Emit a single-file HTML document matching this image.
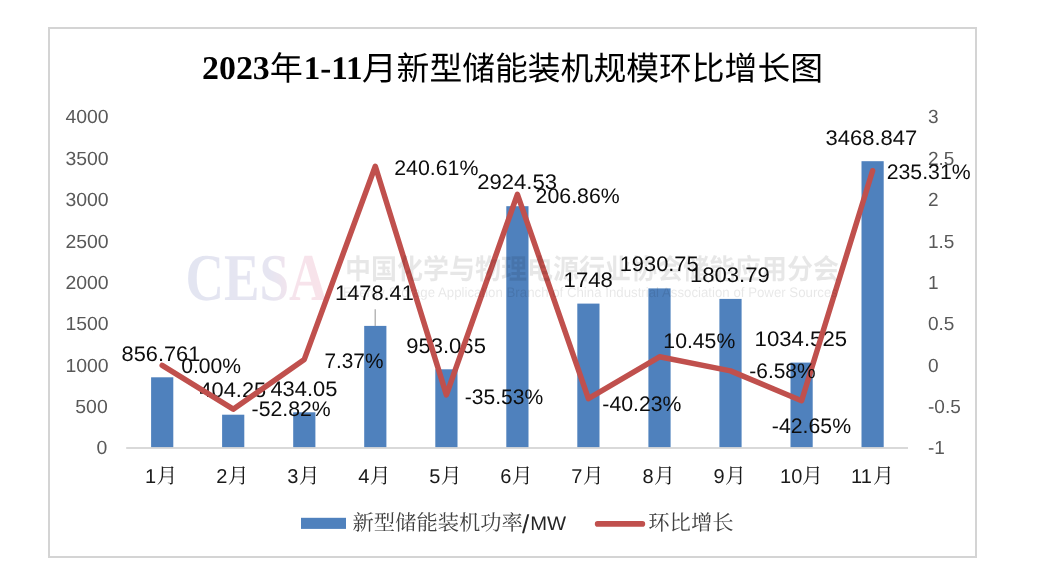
<!DOCTYPE html>
<html lang="zh-CN">
<head>
<meta charset="utf-8">
<title>2023年1-11月新型储能装机规模环比增长图</title>
<style>
html,body{margin:0;padding:0;background:#fff;}
body{width:1063px;height:575px;overflow:hidden;}
svg{display:block;}
text{font-family:"Liberation Sans","Noto Sans CJK SC",sans-serif;text-rendering:geometricPrecision;}
.ttl{font-family:"Liberation Serif","Noto Sans CJK SC",serif;font-weight:bold;font-size:33.1px;fill:#000;}
.ttlc{font-family:"Noto Sans CJK SC","Liberation Sans",sans-serif;font-weight:400;font-size:33.1px;fill:#000;}
.ax{font-size:19px;fill:#595959;}
.cat{font-size:20px;fill:#1a1a1a;}
.catc{font-family:"Noto Serif CJK SC","Liberation Serif",serif;font-weight:400;font-size:21px;fill:#1a1a1a;}
.dl{font-size:21.0px;fill:#0d0d0d;}
.lg{font-family:"Noto Serif CJK SC","Liberation Serif",serif;font-size:21.3px;fill:#404040;}
.lgl{font-family:"Liberation Sans",sans-serif;font-size:19.5px;fill:#262626;}
</style>
</head>
<body>
<svg width="1063" height="575" viewBox="0 0 1063 575">
<rect x="0" y="0" width="1063" height="575" fill="#ffffff"/>
<defs><filter id="soft" x="0" y="0" width="1063" height="575" filterUnits="userSpaceOnUse" color-interpolation-filters="sRGB"><feGaussianBlur stdDeviation="0.4"/></filter></defs>
<g filter="url(#soft)">
<rect x="49" y="28" width="927" height="529" fill="#ffffff" stroke="#d4d4d4" stroke-width="2"/>
<text x="202.1" y="79" class="ttl" textLength="67.7" lengthAdjust="spacingAndGlyphs">2023</text><text x="269.8" y="80" class="ttlc">年</text><text x="303.8" y="79" class="ttl">1-11</text><text x="361.7" y="80" class="ttlc" textLength="35.1" lengthAdjust="spacingAndGlyphs">月</text><text x="396.6" y="80" class="ttlc" style="font-size:32.8px" textLength="426.4" lengthAdjust="spacingAndGlyphs">新型储能装机规模环比增长图</text>
<line x1="126.2" y1="448.1" x2="908" y2="448.1" stroke="#d9d9d9" stroke-width="2"/>
<text x="96.60" y="454.4" class="ax" textLength="10.80" lengthAdjust="spacingAndGlyphs">0</text>
<text x="75.30" y="413.0" class="ax" textLength="32.40" lengthAdjust="spacingAndGlyphs">500</text>
<text x="65.40" y="371.7" class="ax" textLength="43.20" lengthAdjust="spacingAndGlyphs">1000</text>
<text x="65.40" y="330.3" class="ax" textLength="43.20" lengthAdjust="spacingAndGlyphs">1500</text>
<text x="65.40" y="288.9" class="ax" textLength="43.20" lengthAdjust="spacingAndGlyphs">2000</text>
<text x="65.40" y="247.5" class="ax" textLength="43.20" lengthAdjust="spacingAndGlyphs">2500</text>
<text x="65.40" y="206.2" class="ax" textLength="43.20" lengthAdjust="spacingAndGlyphs">3000</text>
<text x="65.40" y="164.8" class="ax" textLength="43.20" lengthAdjust="spacingAndGlyphs">3500</text>
<text x="65.40" y="123.4" class="ax" textLength="43.20" lengthAdjust="spacingAndGlyphs">4000</text>
<text x="928" y="454.4" class="ax">-1</text>
<text x="928" y="413.0" class="ax">-0.5</text>
<text x="928" y="371.7" class="ax">0</text>
<text x="928" y="330.3" class="ax">0.5</text>
<text x="928" y="288.9" class="ax">1</text>
<text x="928" y="247.5" class="ax">1.5</text>
<text x="928" y="206.2" class="ax">2</text>
<text x="928" y="164.8" class="ax">2.5</text>
<text x="928" y="123.4" class="ax">3</text>
<g fill="#4f81bd">
<rect x="151.1" y="377.3" width="22.2" height="69.8"/>
<rect x="222.1" y="414.7" width="22.2" height="32.4"/>
<rect x="293.2" y="412.3" width="22.2" height="34.8"/>
<rect x="364.2" y="325.9" width="22.2" height="121.2"/>
<rect x="435.3" y="369.3" width="22.2" height="77.8"/>
<rect x="506.3" y="206.2" width="22.2" height="240.9"/>
<rect x="577.3" y="303.6" width="22.2" height="143.5"/>
<rect x="648.4" y="288.4" width="22.2" height="158.7"/>
<rect x="719.4" y="298.9" width="22.2" height="148.2"/>
<rect x="790.5" y="362.6" width="22.2" height="84.5"/>
<rect x="861.5" y="161.2" width="22.2" height="285.9"/>
</g>
<line x1="375.2" y1="309.3" x2="375.2" y2="326" stroke="#a6a6a6" stroke-width="1.2"/>
<text x="121.55" y="361" class="dl" textLength="78.81" lengthAdjust="spacingAndGlyphs">856.761</text>
<text x="199.50" y="397" class="dl" textLength="66.61" lengthAdjust="spacingAndGlyphs">404.25</text>
<text x="270.40" y="396" class="dl" textLength="66.92" lengthAdjust="spacingAndGlyphs">434.05</text>
<text x="335.14" y="300" class="dl" textLength="78.72" lengthAdjust="spacingAndGlyphs">1478.41</text>
<text x="406.17" y="353" class="dl" textLength="79.76" lengthAdjust="spacingAndGlyphs">953.065</text>
<text x="477.19" y="189" class="dl" textLength="79.88" lengthAdjust="spacingAndGlyphs">2924.53</text>
<text x="563.61" y="287" class="dl" textLength="49.25" lengthAdjust="spacingAndGlyphs">1748</text>
<text x="619.74" y="271" class="dl" textLength="78.88" lengthAdjust="spacingAndGlyphs">1930.75</text>
<text x="689.92" y="282" class="dl" textLength="79.83" lengthAdjust="spacingAndGlyphs">1803.79</text>
<text x="754.61" y="346" class="dl" textLength="92.42" lengthAdjust="spacingAndGlyphs">1034.525</text>
<text x="825.46" y="145" class="dl" textLength="91.74" lengthAdjust="spacingAndGlyphs">3468.847</text>
<polyline points="162.2,365.4 233.2,409.2 304.3,359.4 375.3,166.3 446.4,394.9 517.4,194.3 588.4,398.7 659.5,356.8 730.5,370.9 801.6,400.7 872.6,170.7" fill="none" stroke="#c0504d" stroke-width="5.5" stroke-linejoin="round" stroke-linecap="round"/>
<text x="181.18" y="373" class="dl" textLength="59.77" lengthAdjust="spacingAndGlyphs">0.00%</text>
<text x="251.56" y="416" class="dl" textLength="79.20" lengthAdjust="spacingAndGlyphs">-52.82%</text>
<text x="324.43" y="368" class="dl" textLength="59.01" lengthAdjust="spacingAndGlyphs">7.37%</text>
<text x="394.23" y="175" class="dl" textLength="84.23" lengthAdjust="spacingAndGlyphs">240.61%</text>
<text x="464.76" y="404" class="dl" textLength="78.49" lengthAdjust="spacingAndGlyphs">-35.53%</text>
<text x="535.63" y="203" class="dl" textLength="84.13" lengthAdjust="spacingAndGlyphs">206.86%</text>
<text x="602.36" y="411" class="dl" textLength="79.10" lengthAdjust="spacingAndGlyphs">-40.23%</text>
<text x="663.39" y="348" class="dl" textLength="71.87" lengthAdjust="spacingAndGlyphs">10.45%</text>
<text x="749.27" y="378" class="dl" textLength="66.38" lengthAdjust="spacingAndGlyphs">-6.58%</text>
<text x="771.86" y="433" class="dl" textLength="79.20" lengthAdjust="spacingAndGlyphs">-42.65%</text>
<text x="886.73" y="179" class="dl" textLength="83.93" lengthAdjust="spacingAndGlyphs">235.31%</text>
<text x="145.10" y="483" class="cat">1</text><text x="156.60" y="483" class="catc">月</text>
<text x="216.14" y="483" class="cat">2</text><text x="227.64" y="483" class="catc">月</text>
<text x="287.18" y="483" class="cat">3</text><text x="298.68" y="483" class="catc">月</text>
<text x="358.22" y="483" class="cat">4</text><text x="369.72" y="483" class="catc">月</text>
<text x="429.26" y="483" class="cat">5</text><text x="440.76" y="483" class="catc">月</text>
<text x="500.30" y="483" class="cat">6</text><text x="511.80" y="483" class="catc">月</text>
<text x="571.34" y="483" class="cat">7</text><text x="582.84" y="483" class="catc">月</text>
<text x="642.38" y="483" class="cat">8</text><text x="653.88" y="483" class="catc">月</text>
<text x="713.42" y="483" class="cat">9</text><text x="724.92" y="483" class="catc">月</text>
<text x="780.06" y="483" class="cat">10</text><text x="802.06" y="483" class="catc">月</text>
<text x="851.10" y="483" class="cat">11</text><text x="873.10" y="483" class="catc">月</text>
<defs><linearGradient id="wg" x1="0" y1="0" x2="1" y2="0"><stop offset="0" stop-color="#3f4fa5"/><stop offset="0.6" stop-color="#5650a2"/><stop offset="0.78" stop-color="#c8447a"/><stop offset="1" stop-color="#d23f6c"/></linearGradient></defs>
<text x="185.5" y="299.5" opacity="0.14" style="font-family:'Liberation Serif',serif;font-weight:bold;font-size:67px" fill="url(#wg)" textLength="142" lengthAdjust="spacingAndGlyphs">CESA</text>
<g fill="#000" opacity="0.09">
<text transform="translate(345 279) scale(1 1.08)" style="font-family:'Noto Sans CJK SC','Liberation Sans',sans-serif;font-weight:bold;font-size:26px" textLength="494" lengthAdjust="spacingAndGlyphs">中国化学与物理电源行业协会储能应用分会</text>
<text x="343" y="297.3" style="font-family:'Liberation Sans',sans-serif;font-size:13.8px" textLength="495" lengthAdjust="spacingAndGlyphs">Energy Storage Application Branch of China Industrial Association of Power Sources</text>
</g>
<rect x="301" y="517.8" width="45" height="11.1" fill="#4f81bd"/>
<text x="352.5" y="530" class="lg">新型储能装机功率</text><text x="522" y="532.5" class="lgl" style="font-size:26px">/</text><text x="530.2" y="530" class="lgl" textLength="35.9" lengthAdjust="spacingAndGlyphs">MW</text>
<line x1="597.6" y1="523.9" x2="642.4" y2="523.9" stroke="#c0504d" stroke-width="5.6" stroke-linecap="round"/>
<text x="648.3" y="530" class="lg">环比增长</text>
</g>
</svg>
</body>
</html>
